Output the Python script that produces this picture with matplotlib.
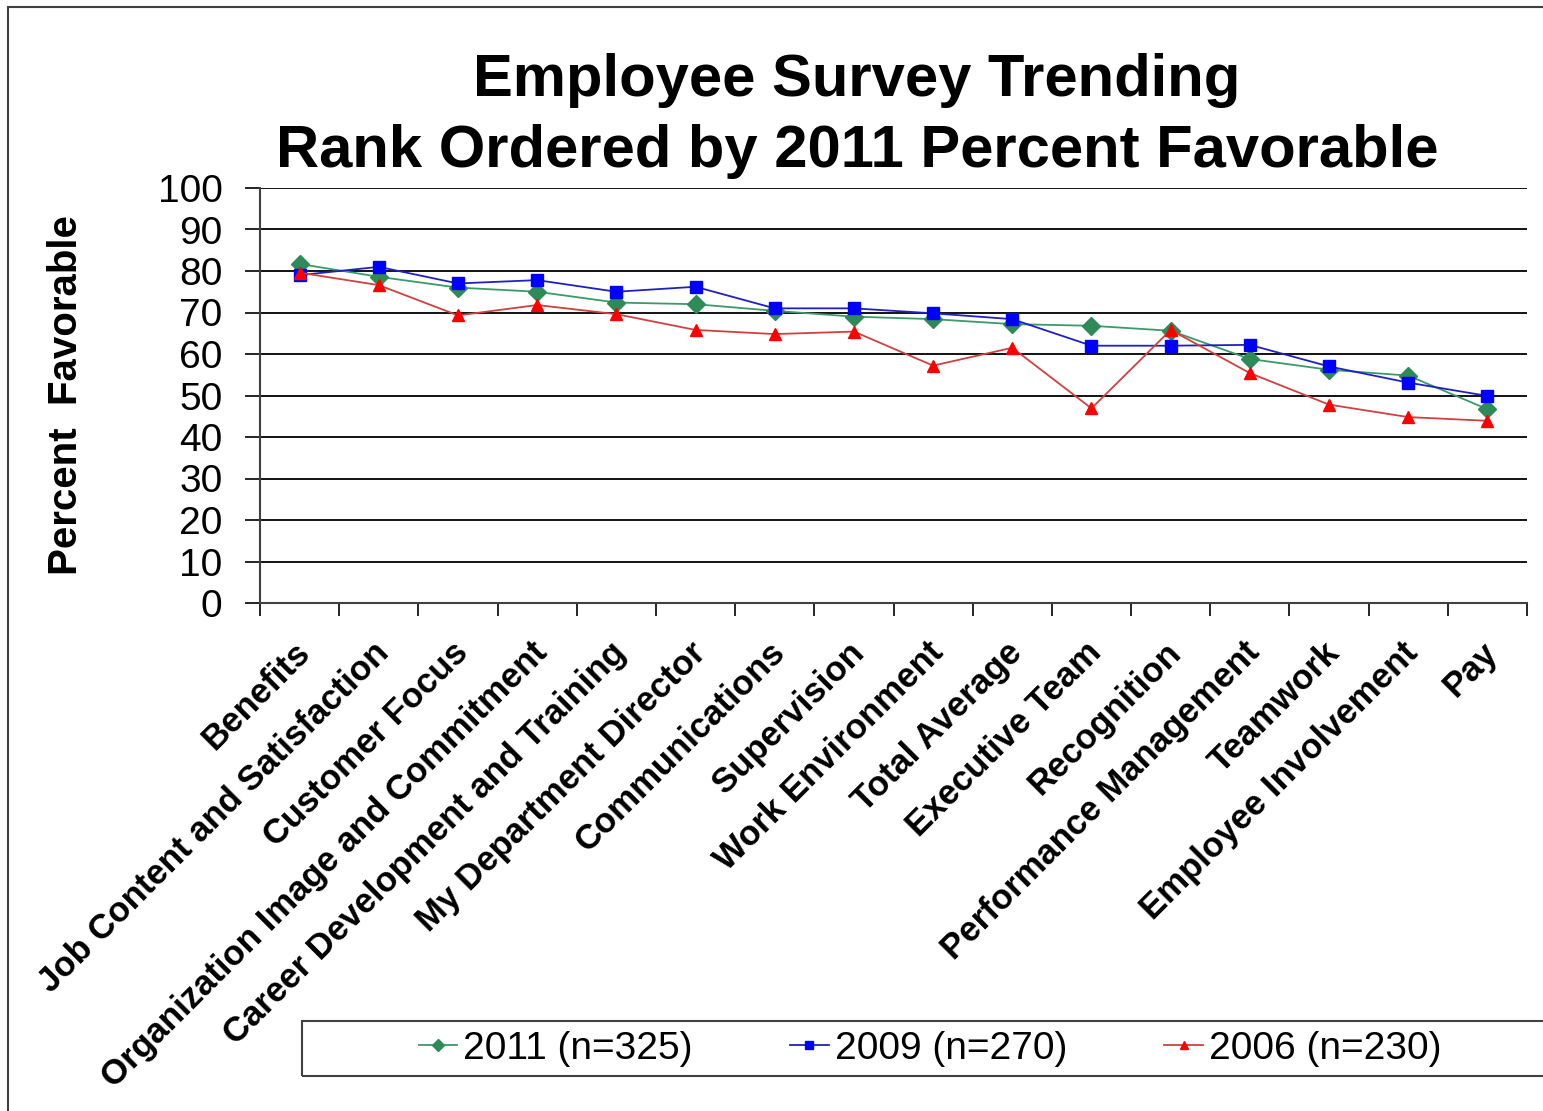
import numpy as np
import matplotlib.pyplot as plt
from matplotlib.patches import Rectangle
import matplotlib.transforms as mtransforms

plt.rcParams['font.family'] = ['Liberation Sans', 'DejaVu Sans']

# data
categories = ['Benefits', 'Job Content and Satisfaction', 'Customer Focus',
              'Organization Image and Commitment', 'Career Development and Training',
              'My Department Director', 'Communications', 'Supervision',
              'Work Environment', 'Total Average', 'Executive Team', 'Recognition',
              'Performance Management', 'Teamwork', 'Employee Involvement', 'Pay']
fav_2011 = [81.7, 78.6, 76, 75, 72.4, 72, 70.4, 69, 68.4, 67.2, 66.8, 65.6, 58.8, 56.2, 54.8, 46.7]
fav_2009 = [79, 81, 77, 77.8, 75, 76.2, 71, 71, 69.8, 68.4, 62, 62, 62.2, 57, 53.1, 49.9]
fav_2006 = [79.6, 76.6, 69.3, 71.8, 69.6, 65.8, 64.8, 65.4, 57.2, 61.5, 46.9, 65.8, 55.4, 47.8, 44.8, 43.9]
series_labels = ['2011 (n=325)', '2009 (n=270)', '2006 (n=230)']

W, H = 1543, 1111
fig = plt.figure(figsize=(W / 100, H / 100), dpi=100)
fig.patch.set_facecolor('white')

# outer border
fig.patches.append(Rectangle((8 / W, -0.1), 1.2, 1 - 7 / H + 0.1, transform=fig.transFigure,
                             fill=False, edgecolor='#404040', linewidth=1.5))

ax = fig.add_axes([260 / W, 1 - 603 / H, (1527 - 260) / W, (603 - 188) / H])
x = np.arange(len(categories))

ax.plot(x, fav_2011, color='#3A9A6A', lw=1.3, marker='D', ms=9, mec='#2E8B57', mfc='#2E8B57',
        label=series_labels[0], zorder=3)
ax.plot(x, fav_2009, color='#2020C0', lw=1.3, marker='s', ms=9, mec='#0000FF', mfc='#0000FF',
        label=series_labels[1], zorder=4)
ax.plot(x, fav_2006, color='#D04040', lw=1.3, marker='^', ms=9, mec='#FF0000', mfc='#FF0000',
        label=series_labels[2], zorder=5)

ax.set_xlim(-0.5, len(categories) - 0.5)
ax.set_ylim(0, 100)
ax.set_yticks(np.arange(0, 101, 10))
ax.tick_params(axis='y', labelsize=28, length=11, width=1.2, pad=16, direction='out')
for yv in range(10, 101, 10):
    ax.axhline(yv, color='black', lw=1.3, zorder=1)

# x ticks at category boundaries, labels at centers
ax.set_xticks(np.arange(-0.5, len(categories), 1), minor=False)
ax.set_xticklabels([])
ax.set_xticks(x, minor=True)
ax.set_xticklabels(categories, minor=True, rotation=45, ha='right', va='center',
                   rotation_mode='anchor', fontsize=25, fontweight='bold')
ax.tick_params(axis='x', which='major', length=9, width=1.2, direction='out')
ax.tick_params(axis='x', which='minor', length=0, pad=32)
offset = mtransforms.ScaledTranslation(5 / 100, 0, fig.dpi_scale_trans)
for lab in ax.get_xticklabels(minor=True):
    lab.set_transform(lab.get_transform() + offset)

for s in ['top', 'right']:
    ax.spines[s].set_visible(False)
for s in ['left', 'bottom']:
    ax.spines[s].set_color('#404040')
    ax.spines[s].set_linewidth(1.5)

ax.set_ylabel('Percent  Favorable', fontsize=29, fontweight='bold', labelpad=52)

fig.text(857 / W, 1 - 116 / H, 'Employee Survey Trending\nRank Ordered by 2011 Percent Favorable',
         ha='center', va='center', fontsize=43, fontweight='bold', linespacing=1.38)

# legend box
fig.patches.append(Rectangle((302 / W, 1 - 1076 / H), 1.0, 55 / H, transform=fig.transFigure,
                             fill=False, edgecolor='#404040', linewidth=1.5))
leg = fig.legend(loc='center', bbox_to_anchor=(930 / W, 1 - 1049 / H), ncol=3, frameon=False,
                 fontsize=28, handlelength=1.0, handletextpad=0.15, columnspacing=2.5,
                 markerscale=0.7)

fig.savefig('out.png', dpi=100)
